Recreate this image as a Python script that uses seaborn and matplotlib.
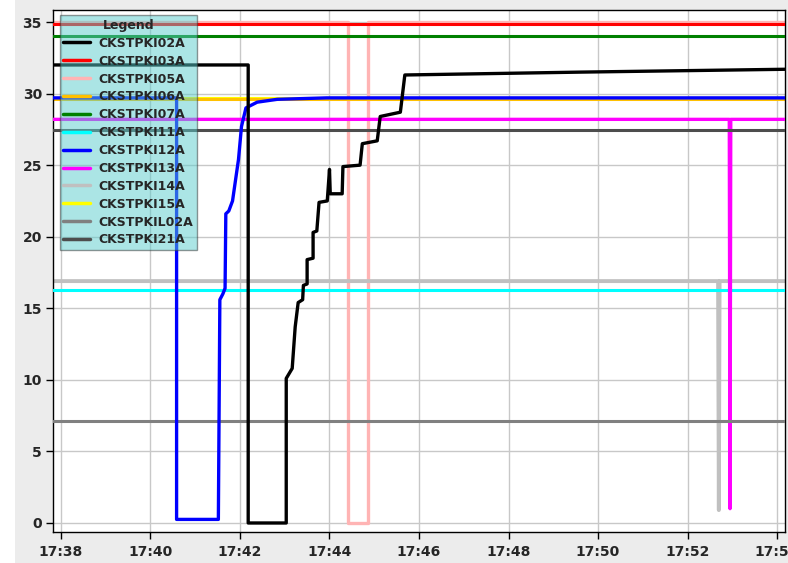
import matplotlib
matplotlib.use("Agg")
import matplotlib.pyplot as plt
from matplotlib.lines import Line2D
from matplotlib.patches import Rectangle
import pandas as pd
import seaborn as sns

# ---------------- data ----------------
series_names = ["CKSTPKI02A", "CKSTPKI03A", "CKSTPKI05A", "CKSTPKI06A", "CKSTPKI07A",
                "CKSTPKI11A", "CKSTPKI12A", "CKSTPKI13A", "CKSTPKI14A", "CKSTPKI15A",
                "CKSTPKIL02A", "CKSTPKI21A"]
series_colors = ["#000000", "#ff0000", "#ffb4b4", "#ffc000", "#008000",
                 "#00ffff", "#0000ff", "#ff00ff", "#c0c0c0", "#ffff00",
                 "#808080", "#4d4d4d"]

times_02A = ["17:37:49", "17:42:11", "17:42:11", "17:43:02", "17:43:02", "17:43:10", "17:43:14",
             "17:43:18", "17:43:24", "17:43:25", "17:43:30", "17:43:30", "17:43:38", "17:43:38",
             "17:43:43", "17:43:46", "17:43:57", "17:44:00", "17:44:01", "17:44:17", "17:44:18",
             "17:44:41", "17:44:44", "17:45:04", "17:45:08", "17:45:35", "17:45:41", "17:49:36",
             "17:54:12"]
vals_02A = [32.0, 32.0, 0.0, 0.0, 10.1, 10.8, 13.7, 15.4, 15.6, 16.6, 16.7, 18.4, 18.5, 20.3,
            20.4, 22.4, 22.5, 24.7, 23.0, 23.0, 24.9, 25.0, 26.5, 26.7, 28.4, 28.7, 31.3, 31.5,
            31.7]

times_03A = ["17:37:49", "17:54:12"]
vals_03A = [34.85, 34.85]

times_05A = ["17:37:49", "17:44:25", "17:44:25", "17:44:52", "17:44:52", "17:54:12"]
vals_05A = [35.0, 35.0, 0.0, 0.0, 35.0, 35.0]

times_06A = ["17:37:49", "17:54:12"]
vals_06A = [29.65, 29.65]

times_07A = ["17:37:49", "17:54:12"]
vals_07A = [34.05, 34.05]

times_11A = ["17:37:49", "17:54:12"]
vals_11A = [16.25, 16.25]

times_12A = ["17:37:49", "17:40:35", "17:40:35", "17:41:31", "17:41:33", "17:41:37", "17:41:40",
             "17:41:41", "17:41:45", "17:41:50", "17:41:58", "17:42:02", "17:42:08", "17:42:23",
             "17:42:50", "17:43:56", "17:54:12"]
vals_12A = [29.7, 29.7, 0.25, 0.25, 15.6, 16.0, 16.4, 21.6, 21.8, 22.5, 25.4, 27.7, 29.0, 29.4,
            29.6, 29.7, 29.7]

times_13A = ["17:37:49", "17:52:56", "17:52:57", "17:52:58", "17:54:12"]
vals_13A = [28.2, 28.2, 1.0, 28.2, 28.2]

times_14A = ["17:37:49", "17:52:41", "17:52:42", "17:52:43", "17:54:12"]
vals_14A = [16.9, 16.9, 0.9, 16.9, 16.9]

times_15A = ["17:37:49", "17:54:12"]
vals_15A = [29.7, 29.7]

times_L02A = ["17:37:49", "17:54:12"]
vals_L02A = [7.1, 7.1]

times_21A = ["17:37:49", "17:54:12"]
vals_21A = [27.45, 27.45]

x_tick_labels = ["17:38", "17:40", "17:42", "17:44", "17:46", "17:48", "17:50", "17:52", "17:54"]
y_ticks = [0, 5, 10, 15, 20, 25, 30, 35]

all_times = [times_02A, times_03A, times_05A, times_06A, times_07A, times_11A, times_12A,
             times_13A, times_14A, times_15A, times_L02A, times_21A]
all_vals = [vals_02A, vals_03A, vals_05A, vals_06A, vals_07A, vals_11A, vals_12A,
            vals_13A, vals_14A, vals_15A, vals_L02A, vals_21A]

DAY = "2024-01-01 "


def to_dt(lst):
    return pd.to_datetime([DAY + s for s in lst])


# ---------------- styling ----------------
sns.set_style("white")
plt.rcParams["font.family"] = ["DejaVu Sans"]

fig = plt.figure(figsize=(7.88, 5.63), dpi=100, facecolor="#ececec")
fig.patches.append(Rectangle((0, 0), 15 / 788, 1, transform=fig.transFigure,
                             facecolor="white", edgecolor="none", zorder=0))
ax = fig.add_axes([53 / 788, 1 - 532 / 563, (785 - 53) / 788, (532 - 10) / 563])
ax.set_facecolor("white")

widths = [2.4, 2.2, 2.4, 2.2, 2.2, 2.2, 2.4, 2.4, 2.8, 1.5, 2.2, 2.2]
zorders = [6, 3, 2, 2, 3, 3, 5, 3, 2, 1.5, 3, 3]

handles = []
for name, col, tl, vl, lw, zo in zip(series_names, series_colors, all_times, all_vals, widths, zorders):
    df = pd.DataFrame({"time": to_dt(tl), "value": vl})
    sns.lineplot(data=df, x="time", y="value", color=col, linewidth=lw,
                 estimator=None, sort=False, ax=ax, zorder=zo, legend=False)
    handles.append(Line2D([0], [0], color=col, lw=2.5))

# axes limits / ticks
ax.set_xlim(pd.Timestamp(DAY + "17:37:49.3"), pd.Timestamp(DAY + "17:54:10.7"))
ax.set_ylim(-0.63, 35.84)
xt = to_dt([s + ":00" for s in x_tick_labels])
ax.set_xticks(xt)
ax.set_xticklabels(x_tick_labels)
ax.set_yticks(y_ticks)
ax.set_yticklabels([str(v) for v in y_ticks])
ax.set_xlabel("")
ax.set_ylabel("")

ax.grid(True, color="#c8c8c8", linewidth=1.0, zorder=0)
ax.set_axisbelow(True)
for sp in ax.spines.values():
    sp.set_visible(True)
    sp.set_color("black")
    sp.set_linewidth(1.0)

ax.tick_params(axis="both", which="major", direction="out", length=5, width=1,
               color="black", labelsize=10, bottom=True, left=True)
ax.tick_params(axis="x", pad=4)
ax.tick_params(axis="y", pad=3)
for lab in ax.get_xticklabels() + ax.get_yticklabels():
    lab.set_fontweight("bold")

leg = ax.legend(handles, series_names, title="Legend", loc="upper left",
                bbox_to_anchor=(0.009, 0.99), fontsize=9, title_fontsize=9,
                labelspacing=0.39, handlelength=2.1, handletextpad=0.7,
                borderpad=0.3, borderaxespad=0.0, frameon=True, fancybox=False,
                facecolor=(0.35, 0.8, 0.8), edgecolor="#333333", framealpha=0.5)
leg.get_title().set_fontweight("bold")
for t in leg.get_texts():
    t.set_fontweight("bold")
frame = leg.get_frame()
frame.set_linewidth(1.0)
leg.set_zorder(10)

fig.savefig("out.png", dpi=100, facecolor=fig.get_facecolor())
